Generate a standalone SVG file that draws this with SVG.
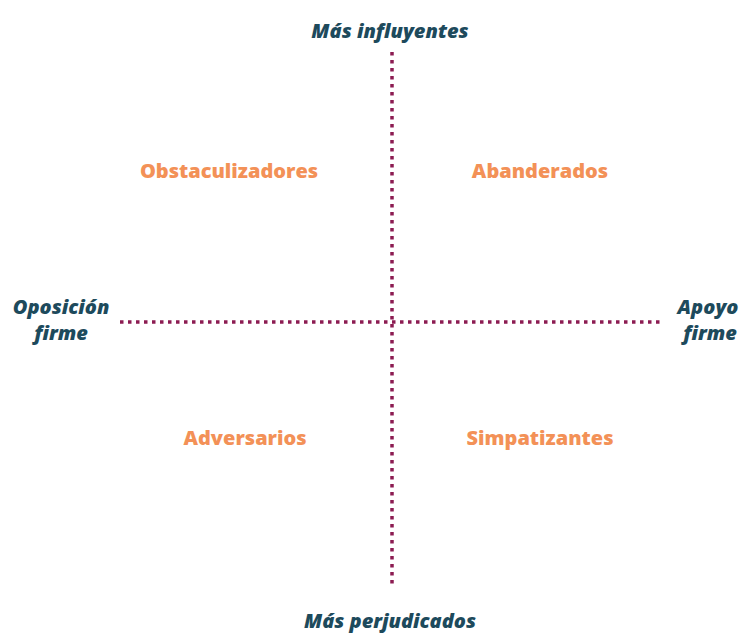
<svg xmlns="http://www.w3.org/2000/svg" width="740" height="633" viewBox="0 0 740 633">
<style>
.axis{font-family:"Open Sans","Liberation Sans",sans-serif;font-weight:800;font-style:italic;font-size:20px;fill:#1d4a5c;text-anchor:middle}
.quad{font-family:"Open Sans","Liberation Sans",sans-serif;font-weight:800;font-size:20px;fill:#f39157;text-anchor:middle}
.dot{stroke:#8c1c52;stroke-width:3.5;stroke-dasharray:3.5 4.5;fill:none}
</style>
<rect width="740" height="633" fill="#ffffff"/>
<g id="connectors">
<line class="dot" x1="392" y1="52" x2="392" y2="586"/>
<line class="dot" x1="120" y1="322" x2="662" y2="322"/>
</g>
<g id="top"><text class="axis" x="390" y="38">Más influyentes</text></g>
<g id="bottom"><text class="axis" x="390" y="628">Más perjudicados</text></g>
<g id="left"><text class="axis" x="61" y="314">Oposición</text><text class="axis" x="61" y="340">firme</text></g>
<g id="right"><text class="axis" x="708" y="314">Apoyo</text><text class="axis" x="710" y="340">firme</text></g>
<g id="q1"><text class="quad" x="229" y="178">Obstaculizadores</text></g>
<g id="q2"><text class="quad" x="540" y="178">Abanderados</text></g>
<g id="q3"><text class="quad" x="245" y="445">Adversarios</text></g>
<g id="q4"><text class="quad" x="540" y="445">Simpatizantes</text></g>
</svg>
